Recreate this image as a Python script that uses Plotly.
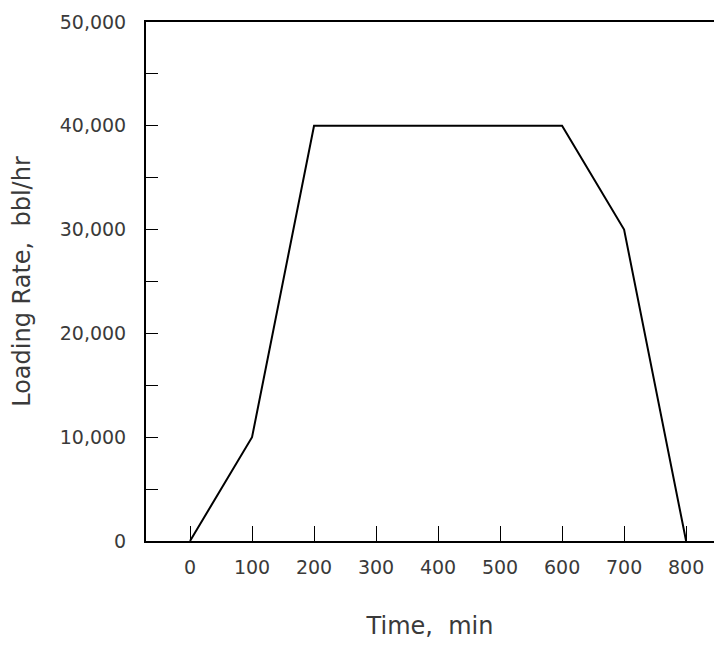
import plotly.graph_objects as go

time_min = [0, 100, 200, 600, 700, 800]
loading_rate = [0, 10000, 40000, 40000, 30000, 0]
x_ticks = [0, 100, 200, 300, 400, 500, 600, 700, 800]
y_ticks = [0, 10000, 20000, 30000, 40000, 50000]

font = dict(family="DejaVu Sans, Liberation Sans, sans-serif", color="#3a3a3a", size=19)

fig = go.Figure()
fig.add_trace(go.Scatter(x=time_min, y=loading_rate, mode="lines",
                         line=dict(color="black", width=2), showlegend=False))

fig.update_layout(
    width=706, height=632,
    margin=dict(l=138, r=0, t=14, b=99),
    plot_bgcolor="white", paper_bgcolor="white",
    font=font,
    xaxis=dict(
        range=[-71, 845],
        tickvals=x_ticks,
        ticks="inside", ticklen=15, tickwidth=1, tickcolor="black",
        showline=True, linecolor="black", linewidth=2, mirror=True,
        showgrid=False, zeroline=False,
        ticklabelstandoff=8,
        title=dict(text="Time,\u00a0\u00a0min", font=dict(size=24), standoff=44),
    ),
    yaxis=dict(
        range=[0, 50000],
        tickvals=y_ticks,
        tickformat=",d",
        ticks="inside", ticklen=12, tickwidth=1, tickcolor="black",
        minor=dict(ticks="inside", ticklen=12, tickwidth=1, tickcolor="black", dtick=5000, showgrid=False),
        showline=True, linecolor="black", linewidth=2,
        showgrid=False, zeroline=False,
        ticklabelstandoff=14,
        title=dict(text="Loading\u00a0Rate,\u00a0\u00a0bbl/hr", font=dict(size=24), standoff=22),
    ),
)

fig.write_html("out.html")
